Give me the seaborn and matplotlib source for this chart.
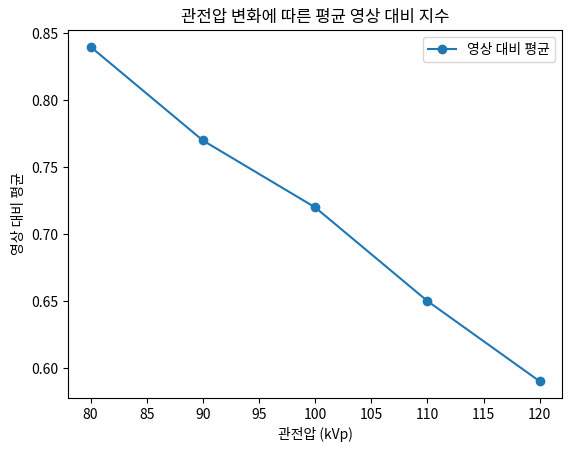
import seaborn as sns
import pandas as pd
import matplotlib
matplotlib.use('Agg')
import matplotlib.pyplot as plt

plt.rcParams['font.family'] = ['Noto Sans CJK KR', 'DejaVu Sans']
plt.rcParams['axes.unicode_minus'] = False

kvp = [80, 90, 100, 110, 120]
contrast = [0.84, 0.77, 0.72, 0.65, 0.59]

df = pd.DataFrame({'kvp': kvp, 'contrast': contrast})

fig, ax = plt.subplots(figsize=(5.72, 4.55), dpi=100)
sns.lineplot(data=df, x='kvp', y='contrast', marker='o', markersize=7,
             markeredgewidth=0, color='#1f77b4', label='영상 대비 평균', ax=ax)

ax.set_title('관전압 변화에 따른 평균 영상 대비 지수')
ax.set_xlabel('관전압 (kVp)')
ax.set_ylabel('영상 대비 평균')
ax.legend(loc='upper right')

fig.subplots_adjust(left=0.119, right=0.983, top=0.934, bottom=0.125)
fig.savefig('out.png', dpi=100)
